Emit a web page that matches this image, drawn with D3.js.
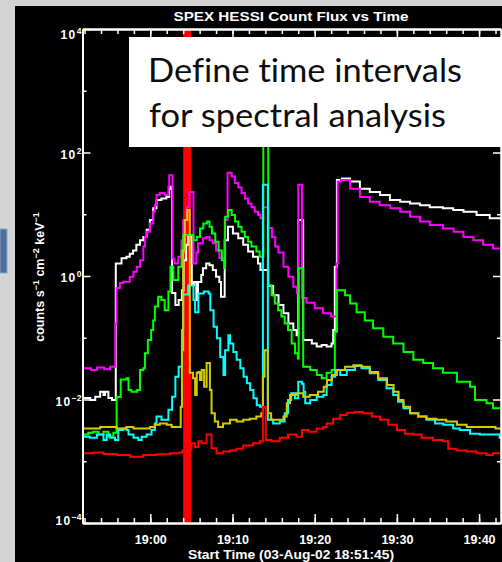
<!DOCTYPE html>
<html>
<head>
<meta charset="utf-8">
<script src="https://cdn.jsdelivr.net/npm/d3@7"></script>
<style>
body { margin: 0; background: #d3d3d3; overflow: hidden; }
svg { display: block; }
</style>
</head>
<body>
<div class="chart"></div>
<script>
// SPEX HESSI count flux
// each point: [minutes after 19:00 UT, counts s^-1 cm^-2 keV^-1], drawn as steps

var white = [[-8.25,1e-4],[-8.25,0.0106],[-7.3,0.0098],[-6.7,0.0111],[-6.1,0.0134],[-5.7,0.0118],[-5.5,0.0134],[-5.1,0.0106],[-4.65,0.0098],
  [-4.2,1.6],[-3.5,1.94],[-2.9,2.05],[-2.5,2.3],[-2.1,2.6],[-1.7,3.2],[-1.25,3.8],[-0.85,4.3],[-0.45,5.6],[-0.05,8.1],[0.35,12.5],[0.75,17],
  [1.35,18],[1.95,19],[2.3,26],[2.45,28],[2.65,0.53],[3.05,0.34],[3.45,0.41],[3.85,0.59],[4.05,1.8],[4.35,3.2],[4.6,4.3],[5.05,0.71],[5.3,0.8],
  [5.6,0.41],[5.8,0.8],[6.2,1.04],[6.4,1.33],[6.8,1.6],[7.2,1.5],[7.6,1.25],[8.0,0.97],[8.4,0.8],[8.6,0.46],[9.05,3.8],[9.45,6.3],[10.05,4.9],
  [10.7,4.1],[11.3,3.2],[11.9,2.5],[12.5,2.05],[13.1,1.6],[13.4,1.25],[14.35,0.69],[14.95,0.49],[15.6,0.34],[16.2,0.25],[16.8,0.17],[17.4,0.134],
  [17.8,0.11],[18.0,8.1],[18.6,0.092],[19.65,0.081],[20.25,0.072],[20.85,0.076],[21.45,0.072],[22.05,0.081],[22.25,0.134],[22.45,1.41],[22.7,36],
  [23.3,38],[24.3,34],[25.5,26],[26.7,23],[27.95,20.5],[29.15,17],[30.4,16],[31.6,15],[32.8,14],[34.0,13],[35.6,12.5],[36.85,11.7],[38.1,11],
  [39.7,9.7],[41.3,8.6],[42.7,8.1]];

var magenta = [[-8.25,1e-4],[-8.25,0.032],[-7.2,0.030],[-6.5,0.033],[-5.6,0.031],[-4.9,0.034],[-4.25,0.17],[-4.1,0.64],[-3.7,0.77],[-3.3,0.81],
  [-2.5,0.97],[-2.05,1.17],[-1.65,1.41],[-1.25,1.8],[-0.85,3.0],[-0.65,4.3],[-0.45,5.2],[-0.05,7.1],[0.35,11],[0.55,14],[0.75,20.5],[1.15,22],
  [1.75,20.5],[2.2,28],[2.3,43],[2.7,1.9],[2.95,1.6],[3.4,2.05],[3.8,3.8],[4.0,8.1],[4.4,13],[4.75,23],[5.25,1.6],[5.6,2.4],[5.8,3.4],[6.4,4.1],
  [6.8,4.3],[7.2,3.8],[7.6,3.4],[8.0,2.6],[8.4,1.95],[9.05,8.1],[9.4,47],[9.9,41],[10.3,32],[10.7,27],[11.1,22],[11.5,18],[11.9,15],[12.3,13],
  [12.7,11],[13.1,9.7],[13.4,8.6],[13.7,13],[14.35,6.0],[14.8,4.3],[15.2,3.0],[15.6,2.4],[16.2,1.41],[16.8,0.97],[17.4,0.67],[17.85,0.53],
  [18.0,30],[18.45,0.44],[19.0,0.37],[20.0,0.30],[21.0,0.25],[22.0,0.22],[22.65,1.6],[22.8,34],[23.2,36],[24.3,26],[25.5,19],[26.7,16],[27.9,14],
  [29.2,12.5],[30.4,11],[31.6,9.1],[32.8,7.6],[34.0,6.7],[35.6,5.9],[36.9,5.2],[38.1,4.3],[39.3,3.8],[40.5,3.2],[41.7,2.8],[42.7,2.5]];

var green = [[-8.25,1e-4],[-8.25,0.0027],[-7.55,0.0029],[-6.95,0.0030],[-6.3,0.0027],[-5.7,0.0030],[-5.1,0.0025],[-4.5,0.0029],[-4.1,0.011],
  [-3.6,0.021],[-2.9,0.022],[-2.65,0.0143],[-2.3,0.0134],[-1.6,0.0143],[-1.25,0.030],[-0.85,0.032],[-0.65,0.056],[-0.3,0.092],[0.1,0.134],
  [0.35,0.19],[0.55,0.32],[0.95,0.46],[1.35,0.41],[1.75,0.28],[2.2,0.56],[2.45,1.41],[2.8,0.86],[3.4,1.41],[3.8,2.6],[4.0,4.6],[5.25,3.8],
  [5.65,4.3],[6.05,5.9],[6.45,7.1],[6.9,7.6],[7.2,6.3],[7.5,4.9],[7.9,3.6],[8.3,2.6],[8.7,1.8],[9.0,1.33],[9.1,9.1],[9.45,11.7],[9.9,9.7],
  [10.3,7.6],[10.7,6.3],[11.1,5.2],[11.5,4.3],[11.9,3.6],[12.3,3.0],[12.9,2.5],[13.3,2.05],[13.75,500],[14.35,0.71],[14.75,0.49],[15.15,0.36],
  [15.55,0.28],[15.95,0.22],[16.35,0.17],[16.75,0.134],[17.2,0.081],[17.6,0.056],[17.95,0.046],[18.05,1.33],[18.6,0.034],[19.45,0.030],
  [20.25,0.025],[20.85,0.022],[21.45,0.027],[22.05,0.030],[22.45,0.125],[22.7,0.59],[23.7,0.49],[24.3,0.36],[25.1,0.26],[26.1,0.19],
  [27.1,0.142],[28.35,0.104],[29.55,0.081],[30.8,0.059],[32.0,0.044],[33.2,0.039],[34.4,0.032],[35.6,0.027],[37.3,0.0194],[38.9,0.0161],
  [39.5,0.0098],[40.9,0.0087],[41.7,0.0072],[42.7,0.0072]];

var cyan = [[-8.25,1e-4],[-8.25,0.0025],[-7.35,0.0024],[-6.5,0.0027],[-5.7,0.0022],[-5.3,0.0027],[-4.9,0.0024],[-4.3,0.0022],[-3.9,0.0032],
  [-3.3,0.0034],[-2.9,0.0032],[-2.65,0.0027],[-2.05,0.0024],[-1.45,0.0022],[-1.05,0.0025],[-0.45,0.0027],[0.15,0.0032],[0.55,0.0041],
  [0.75,0.0053],[1.35,0.0047],[2.2,0.0068],[2.65,0.0111],[3.05,0.0234],[3.45,0.034],[3.85,0.134],[4.0,0.5],[4.6,0.7],[5.25,0.41],[5.45,0.26],
  [5.85,0.52],[6.5,0.56],[7.1,0.52],[7.3,0.28],[7.7,0.151],[8.1,0.098],[8.5,0.049],[8.9,0.025],[9.1,0.063],[9.5,0.11],[9.7,0.081],[10.1,0.059],
  [10.5,0.044],[10.95,0.032],[11.35,0.0234],[11.75,0.0183],[12.15,0.0143],[12.55,0.0105],[12.95,0.0081],[13.35,0.0076],[13.7,30],[14.3,0.0047],
  [14.95,0.0041],[15.75,0.0044],[16.35,0.006],[16.75,0.0098],[17.15,0.0126],[17.6,0.0105],[18.0,0.0194],[18.45,0.018],[18.65,0.0134],
  [18.85,0.0087],[19.45,0.0098],[20.25,0.0111],[21.05,0.0118],[21.45,0.0172],[22.05,0.0234],[22.5,0.030],[23.1,0.025],[23.9,0.030],[24.9,0.035],
  [25.7,0.032],[26.7,0.0266],[27.75,0.0207],[28.75,0.0152],[29.55,0.0118],[30.15,0.0092],[30.8,0.0072],[31.6,0.006],[32.6,0.0053],[33.6,0.0047],
  [34.65,0.0041],[35.65,0.0039],[36.85,0.0034],[37.65,0.0032],[38.9,0.0028],[40.1,0.0027],[41.3,0.0027],[42.5,0.0024],[42.7,0.0024]];

var yellow = [[-8.25,1e-4],[-8.25,0.0034],[-6.1,0.0036],[-4.1,0.0034],[-2.9,0.0036],[-2.05,0.0034],[-0.05,0.0036],[0.55,0.0039],[1.15,0.0041],
  [2.0,0.0039],[2.6,0.0036],[3.7,0.0076],[3.85,0.063],[4.0,2.6],[4.2,8.1],[4.5,11.7],[4.8,0.027],[5.2,0.022],[5.45,0.0118],[5.65,0.027],
  [5.85,0.028],[6.05,0.0207],[6.25,0.030],[6.55,0.0161],[6.85,0.039],[7.25,0.0143],[7.45,0.006],[7.85,0.0044],[8.25,0.0036],[8.85,0.0041],
  [9.7,0.0047],[10.5,0.0044],[11.3,0.0047],[12.1,0.0049],[12.9,0.0053],[13.5,0.006],[13.7,0.0234],[13.9,0.063],[14.3,0.006],[14.7,0.0047],
  [16.2,0.0053],[16.6,0.0087],[17.0,0.0118],[17.8,0.0126],[18.6,0.0111],[19.4,0.0118],[20.4,0.0134],[21.1,0.0161],[21.5,0.0207],[22.1,0.025],
  [22.7,0.030],[23.7,0.034],[24.7,0.036],[25.7,0.034],[26.7,0.028],[27.7,0.022],[28.8,0.0172],[29.6,0.0134],[30.2,0.0098],[30.8,0.0076],
  [31.6,0.006],[32.6,0.0053],[33.6,0.0049],[34.8,0.0047],[36.0,0.0044],[37.3,0.0039],[38.5,0.0036],[42.0,0.0034],[42.7,0.0034]];

var red = [[-8.25,1e-4],[-8.25,0.00135],[-6.9,0.00138],[-5.7,0.00131],[-4.1,0.00126],[-2.45,0.00118],[-0.85,0.00126],[0.75,0.0013],
  [2.4,0.00135],[3.6,0.00138],[3.9,0.0015],[5.0,0.00195],[5.45,0.0017],[5.85,0.0021],[6.25,0.00195],[6.85,0.0027],[7.45,0.00162],[8.05,0.00135],
  [8.85,0.00144],[9.7,0.0015],[10.5,0.0016],[11.3,0.0018],[12.5,0.00195],[13.3,0.0021],[13.7,0.0076],[14.05,0.0022],[14.75,0.0021],
  [15.75,0.0024],[16.75,0.0027],[17.8,0.0025],[18.45,0.0032],[19.25,0.003],[20.25,0.0034],[21.05,0.0036],[21.45,0.0041],[22.25,0.0049],
  [23.1,0.0056],[23.9,0.0061],[24.9,0.0063],[25.9,0.006],[26.95,0.0053],[27.95,0.0047],[28.95,0.0039],[30.0,0.0032],[31.0,0.0028],[32.0,0.0027],
  [33.0,0.0024],[34.4,0.0022],[35.6,0.0021],[36.25,0.0016],[37.25,0.0015],[38.5,0.00144],[39.7,0.00135],[40.9,0.00126],[41.7,0.00135],
  [42.7,0.00135]];

// selected spectral interval (minutes after 19:00)
var specInterval = [4.0, 4.95];

// plot range: 18:51:45 to ~19:42:40
var timeRange = [-8.25, 42.667];
var majorDecades = [1e-4, 1e-2, 1, 1e2, 1e4];
var minorDecades = [1e-3, 1e-1, 10, 1e3];

// layout
var width = 502;
var height = 562;
var plotLeft = 82.5, plotRight = 501, plotTop = 29, plotBottom = 523;

var t0 = Date.UTC(2002, 7, 3, 19, 0, 0);
function toDate(m) { return new Date(t0 + m * 60000); }

var seriesList = [
  { data: white,   color: "#ffffff" },
  { data: magenta, color: "#ff00ff" },
  { data: green,   color: "#00ff00" },
  { data: cyan,    color: "#00ffff" },
  { data: yellow,  color: "#d4cc00" },
  { data: red,     color: "#ff0000" }
];

var xScale = d3.scaleUtc()
               .domain(timeRange.map(toDate))
               .range([plotLeft, plotRight]);
var yScale = d3.scaleLog()
               .domain([1e-4, 1e4])
               .range([plotBottom, plotTop]);

var svg = d3.select(".chart")
            .append("svg")
            .attr("width", width)
            .attr("height", height);

// slide background around the plot window
svg.append("rect").attr("width", width).attr("height", height).attr("fill", "#d4d4d4");
svg.append("rect").attr("x", 0).attr("y", 229).attr("width", 7).attr("height", 44)
   .attr("fill", "#4e6f9c").attr("stroke", "#8aa4c6").attr("stroke-width", 1);
svg.append("rect").attr("x", 15).attr("y", 6).attr("width", width - 15).attr("height", height - 6).attr("fill", "#000");

svg.append("clipPath").attr("id", "plot-clip")
   .append("rect")
   .attr("x", plotLeft).attr("y", plotTop)
   .attr("width", plotRight - plotLeft).attr("height", plotBottom - plotTop);

// red band marking the chosen time interval
svg.append("rect")
   .attr("x", xScale(toDate(specInterval[0])))
   .attr("y", plotTop)
   .attr("width", xScale(toDate(specInterval[1])) - xScale(toDate(specInterval[0])))
   .attr("height", plotBottom - plotTop)
   .attr("fill", "#ff0000");

var line = d3.line()
             .x(d => xScale(toDate(d[0])))
             .y(d => yScale(d[1]))
             .curve(d3.curveStepAfter);

svg.append("g")
   .attr("clip-path", "url(#plot-clip)")
   .selectAll("path")
   .data(seriesList)
   .enter()
   .append("path")
   .attr("d", d => line(d.data))
   .attr("fill", "none")
   .attr("stroke", d => d.color)
   .attr("stroke-width", 2)
   .attr("stroke-linejoin", "miter");

// axes, ticks point inward like IDL
var tickFont = "'Liberation Sans', Arial, sans-serif";

function styleAxis(g) {
  g.select(".domain").attr("stroke", "#fff").attr("stroke-width", 2);
  g.selectAll(".tick line").attr("stroke", "#fff").attr("stroke-width", 1.5);
  g.selectAll("text").attr("fill", "#fff");
}

var xMajor = d3.axisBottom(xScale)
               .ticks(d3.utcMinute.every(10))
               .tickFormat(d3.utcFormat("%H:%M"))
               .tickSize(-9).tickSizeOuter(0).tickPadding(12);
var xMinor = d3.axisBottom(xScale)
               .ticks(d3.utcMinute.every(2))
               .tickFormat("")
               .tickSize(-5).tickSizeOuter(0);

svg.append("g").attr("transform", "translate(0," + plotBottom + ")").call(xMinor).call(styleAxis);
svg.append("g").attr("id", "x-axis")
   .attr("transform", "translate(0," + plotBottom + ")")
   .call(xMajor).call(styleAxis)
   .selectAll("text")
   .attr("textLength", 32).attr("lengthAdjust", "spacingAndGlyphs")
   .style("font-family", tickFont).style("font-size", "12px").style("font-weight", "bold");

svg.append("g").attr("transform", "translate(0," + plotTop + ")")
   .call(d3.axisTop(xScale).ticks(d3.utcMinute.every(2)).tickFormat("").tickSize(-5).tickSizeOuter(0))
   .call(styleAxis);
svg.append("g").attr("transform", "translate(0," + plotTop + ")")
   .call(d3.axisTop(xScale).ticks(d3.utcMinute.every(10)).tickFormat("").tickSize(-9).tickSizeOuter(0))
   .call(styleAxis);

svg.append("g").attr("transform", "translate(" + plotLeft + ",0)")
   .call(d3.axisLeft(yScale).tickValues(minorDecades).tickFormat("").tickSize(-4).tickSizeOuter(0))
   .call(styleAxis);
var yAxisG = svg.append("g").attr("id", "y-axis")
   .attr("transform", "translate(" + plotLeft + ",0)")
   .call(d3.axisLeft(yScale).tickValues(majorDecades).tickSize(-8).tickSizeOuter(0).tickPadding(1))
   .call(styleAxis);

svg.append("g").attr("transform", "translate(" + plotRight + ",0)")
   .call(d3.axisRight(yScale).tickValues(minorDecades).tickFormat("").tickSize(-4).tickSizeOuter(0))
   .call(styleAxis);
svg.append("g").attr("transform", "translate(" + plotRight + ",0)")
   .call(d3.axisRight(yScale).tickValues(majorDecades).tickFormat("").tickSize(-8).tickSizeOuter(0))
   .call(styleAxis);

// 10^n labels with raised exponent
yAxisG.selectAll(".tick text")
   .each(function(d) {
     var t = d3.select(this);
     var p = Math.round(Math.log10(d));
     var shift = p === 4 ? 4.5 : (p === -4 ? -3.5 : 1);
     t.text("")
      .attr("dy", null)
      .attr("y", 4.5 + shift)
      .style("font-family", tickFont).style("font-weight", "bold");
     t.append("tspan").text("10").style("font-size", "12px").attr("letter-spacing", "1.5");
     t.append("tspan").text(p < 0 ? "\u2212" + (-p) : p).attr("dy", -5).style("font-size", "8.5px");
   });

// titles
svg.append("text")
   .attr("x", 291).attr("y", 20.5)
   .attr("text-anchor", "middle")
   .attr("textLength", 235)
   .attr("lengthAdjust", "spacingAndGlyphs")
   .attr("fill", "#fff")
   .style("font-family", tickFont).style("font-size", "13px").style("font-weight", "bold")
   .text("SPEX HESSI Count Flux vs Time");

svg.append("text")
   .attr("x", 291).attr("y", 559)
   .attr("text-anchor", "middle")
   .attr("textLength", 206)
   .attr("lengthAdjust", "spacingAndGlyphs")
   .attr("fill", "#fff")
   .style("font-family", tickFont).style("font-size", "12px").style("font-weight", "bold")
   .text("Start Time (03-Aug-02 18:51:45)");

var yTitle = svg.append("text")
   .attr("transform", "translate(44,277) rotate(-90)")
   .attr("text-anchor", "middle")
   .attr("fill", "#fff")
   .style("font-family", tickFont).style("font-size", "12.5px").style("font-weight", "bold");
yTitle.append("tspan").text("counts  s");
yTitle.append("tspan").text("\u22121").attr("dy", -5).style("font-size", "9px");
yTitle.append("tspan").text("  cm").attr("dy", 5);
yTitle.append("tspan").text("\u22122").attr("dy", -5).style("font-size", "9px");
yTitle.append("tspan").text("  keV").attr("dy", 5);
yTitle.append("tspan").text("\u22121").attr("dy", -5).style("font-size", "9px");

// slide annotation box over the plot
svg.append("rect")
   .attr("x", 129).attr("y", 37)
   .attr("width", width - 129).attr("height", 110)
   .attr("fill", "#fff");
var boxFont = "Lato, 'Open Sans', sans-serif";
svg.append("text")
   .attr("x", 148).attr("y", 82)
   .attr("textLength", 314).attr("lengthAdjust", "spacingAndGlyphs")
   .attr("fill", "#0d0d0d")
   .style("font-family", boxFont).style("font-size", "33px")
   .style("font-variant-ligatures", "none")
   .text("Define time intervals");
svg.append("text")
   .attr("x", 149).attr("y", 127)
   .attr("textLength", 297).attr("lengthAdjust", "spacingAndGlyphs")
   .attr("fill", "#0d0d0d")
   .style("font-family", boxFont).style("font-size", "33px")
   .style("font-variant-ligatures", "none")
   .text("for spectral analysis");
</script>
</body>
</html>
